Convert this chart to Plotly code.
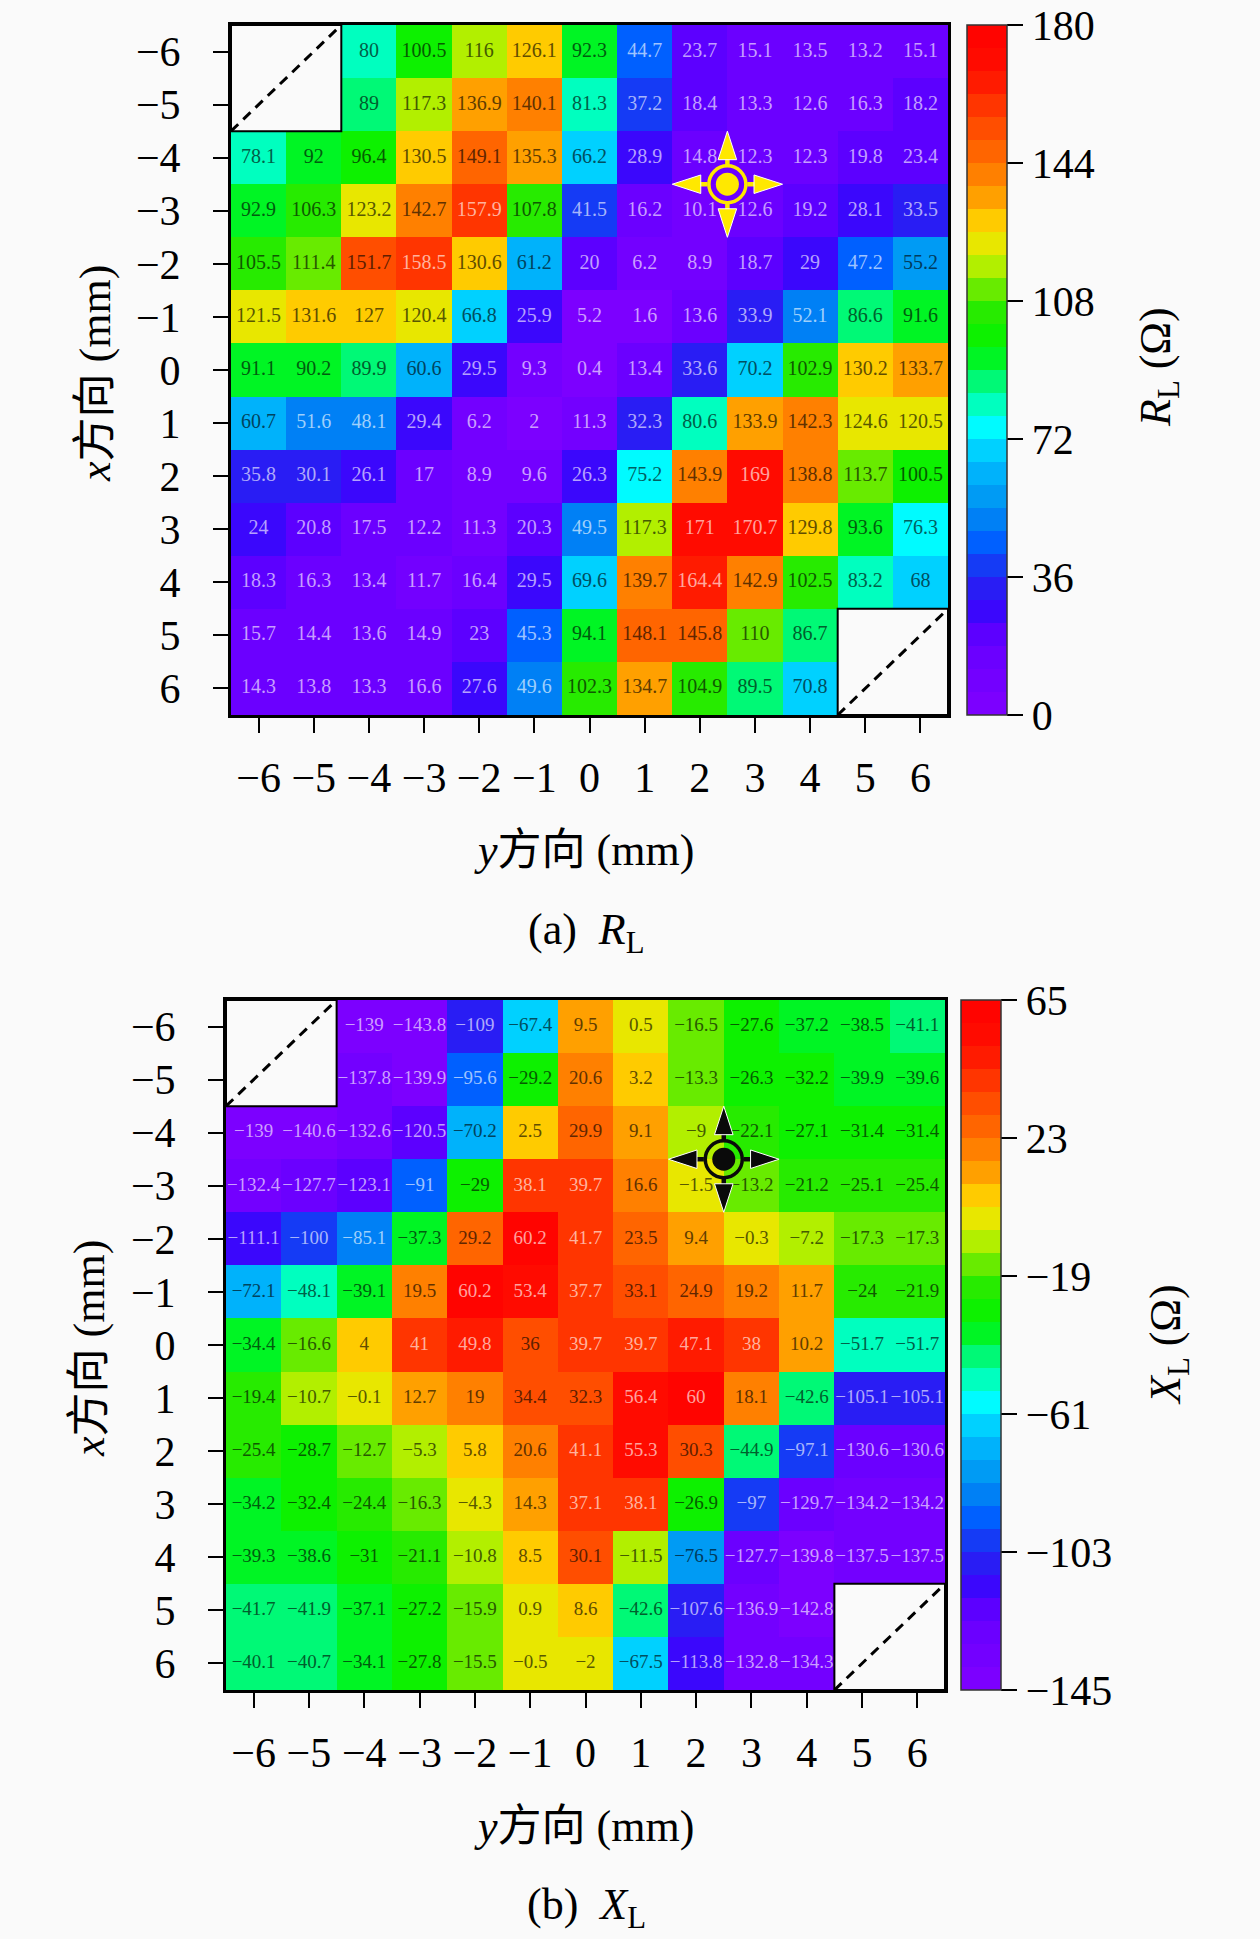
import plotly.graph_objects as go

W, H = 1260, 1939
nan = None
ticks = [-6, -5, -4, -3, -2, -1, 0, 1, 2, 3, 4, 5, 6]

# rows are x = -6..6, columns are y = -6..6
rl = [
    [nan, nan, 80, 100.5, 116, 126.1, 92.3, 44.7, 23.7, 15.1, 13.5, 13.2, 15.1],
    [nan, nan, 89, 117.3, 136.9, 140.1, 81.3, 37.2, 18.4, 13.3, 12.6, 16.3, 18.2],
    [78.1, 92, 96.4, 130.5, 149.1, 135.3, 66.2, 28.9, 14.8, 12.3, 12.3, 19.8, 23.4],
    [92.9, 106.3, 123.2, 142.7, 157.9, 107.8, 41.5, 16.2, 10.1, 12.6, 19.2, 28.1, 33.5],
    [105.5, 111.4, 151.7, 158.5, 130.6, 61.2, 20, 6.2, 8.9, 18.7, 29, 47.2, 55.2],
    [121.5, 131.6, 127, 120.4, 66.8, 25.9, 5.2, 1.6, 13.6, 33.9, 52.1, 86.6, 91.6],
    [91.1, 90.2, 89.9, 60.6, 29.5, 9.3, 0.4, 13.4, 33.6, 70.2, 102.9, 130.2, 133.7],
    [60.7, 51.6, 48.1, 29.4, 6.2, 2, 11.3, 32.3, 80.6, 133.9, 142.3, 124.6, 120.5],
    [35.8, 30.1, 26.1, 17, 8.9, 9.6, 26.3, 75.2, 143.9, 169, 138.8, 113.7, 100.5],
    [24, 20.8, 17.5, 12.2, 11.3, 20.3, 49.5, 117.3, 171, 170.7, 129.8, 93.6, 76.3],
    [18.3, 16.3, 13.4, 11.7, 16.4, 29.5, 69.6, 139.7, 164.4, 142.9, 102.5, 83.2, 68],
    [15.7, 14.4, 13.6, 14.9, 23, 45.3, 94.1, 148.1, 145.8, 110, 86.7, nan, nan],
    [14.3, 13.8, 13.3, 16.6, 27.6, 49.6, 102.3, 134.7, 104.9, 89.5, 70.8, nan, nan],
]
xl = [
    [nan, nan, -139, -143.8, -109, -67.4, 9.5, 0.5, -16.5, -27.6, -37.2, -38.5, -41.1],
    [nan, nan, -137.8, -139.9, -95.6, -29.2, 20.6, 3.2, -13.3, -26.3, -32.2, -39.9, -39.6],
    [-139, -140.6, -132.6, -120.5, -70.2, 2.5, 29.9, 9.1, -9, -22.1, -27.1, -31.4, -31.4],
    [-132.4, -127.7, -123.1, -91, -29, 38.1, 39.7, 16.6, -1.5, -13.2, -21.2, -25.1, -25.4],
    [-111.1, -100, -85.1, -37.3, 29.2, 60.2, 41.7, 23.5, 9.4, -0.3, -7.2, -17.3, -17.3],
    [-72.1, -48.1, -39.1, 19.5, 60.2, 53.4, 37.7, 33.1, 24.9, 19.2, 11.7, -24, -21.9],
    [-34.4, -16.6, 4, 41, 49.8, 36, 39.7, 39.7, 47.1, 38, 10.2, -51.7, -51.7],
    [-19.4, -10.7, -0.1, 12.7, 19, 34.4, 32.3, 56.4, 60, 18.1, -42.6, -105.1, -105.1],
    [-25.4, -28.7, -12.7, -5.3, 5.8, 20.6, 41.1, 55.3, 30.3, -44.9, -97.1, -130.6, -130.6],
    [-34.2, -32.4, -24.4, -16.3, -4.3, 14.3, 37.1, 38.1, -26.9, -97, -129.7, -134.2, -134.2],
    [-39.3, -38.6, -31, -21.1, -10.8, 8.5, 30.1, -11.5, -76.5, -127.7, -139.8, -137.5, -137.5],
    [-41.7, -41.9, -37.1, -27.2, -15.9, 0.9, 8.6, -42.6, -107.6, -136.9, -142.8, nan, nan],
    [-40.1, -40.7, -34.1, -27.8, -15.5, -0.5, -2, -67.5, -113.8, -132.8, -134.3, nan, nan],
]
rl_ticks = [0, 36, 72, 108, 144, 180]
xl_ticks = [-145, -103, -61, -19, 23, 65]

FONT = "Liberation Serif, Noto Sans CJK SC"
BG = "#fafafa"

# rainbow used by the colour bar, cut into flat bands
anchors = [
    (0, (128, 0, 255)), (0.11, (100, 0, 255)), (0.14, (64, 0, 255)), (0.2, (32, 40, 240)),
    (0.25, (0, 96, 255)), (0.3, (0, 144, 240)), (0.37, (0, 192, 255)), (0.42, (0, 255, 255)),
    (0.46, (0, 255, 170)), (0.5, (0, 245, 80)), (0.53, (0, 245, 0)), (0.58, (32, 235, 0)),
    (0.62, (110, 235, 0)), (0.66, (200, 240, 0)), (0.7, (255, 224, 0)), (0.75, (255, 160, 0)),
    (0.8, (255, 112, 0)), (0.87, (255, 64, 0)), (0.93, (255, 16, 0)), (1, (255, 0, 0)),
]
LEVELS = 30


def rainbow(t):
    for (a, ca), (b, cb) in zip(anchors, anchors[1:]):
        if t <= b:
            f = (t - a) / (b - a)
            return tuple(round(p + (q - p) * f) for p, q in zip(ca, cb))
    return anchors[-1][1]


def band(t):
    k = min(int(t * LEVELS), LEVELS - 1)
    return rainbow((k + 0.5) / LEVELS)


colorscale = []
for k in range(LEVELS):
    c = "rgb(%d,%d,%d)" % band(k / LEVELS)
    colorscale += [[k / LEVELS, c], [(k + 1) / LEVELS, c]]


def text_color(t):
    # labels are blurred into their cell in the original, so mix with the cell colour
    c = band(t)
    lum = 0.3 * c[0] + 0.59 * c[1] + 0.11 * c[2]
    mix = 0 if lum > 110 else 255
    return "rgb(%d,%d,%d)" % tuple(round(p + (mix - p) * 0.62) for p in c)


fig = go.Figure()


def px_x(p):
    return p / W


def px_y(p):
    return 1 - p / H


def note(text, x, y, size=44, angle=0):
    fig.add_annotation(text=text, x=px_x(x), y=px_y(y), xref="paper", yref="paper", showarrow=False,
                       xanchor="center", yanchor="middle", textangle=angle,
                       font=dict(family=FONT, size=size, color="black"))


def panel(n, values, cticks, left, right, top, bottom, cb_left, marker, text_size, titles):
    xa, ya = ("x", "y") if n == 1 else ("x2", "y2")
    lo, hi = cticks[0], cticks[-1]
    fig.add_trace(go.Heatmap(
        x=ticks, y=ticks, z=values, zmin=lo, zmax=hi, colorscale=colorscale, xaxis=xa, yaxis=ya,
        hoverongaps=False, xgap=0, ygap=0,
        colorbar=dict(
            x=px_x(cb_left), xanchor="left", xref="paper", xpad=0, ypad=0,
            y=px_y((top + bottom) / 2), yanchor="middle", yref="paper",
            lenmode="fraction", len=(bottom - top) / H, thickness=40, thicknessmode="pixels",
            tickmode="array", tickvals=cticks, ticks="outside", ticklen=16, tickwidth=1.5,
            tickcolor="black", outlinewidth=1.5, outlinecolor="#333",
            tickfont=dict(family=FONT, size=42, color="black"),
        ),
    ))
    tx, ty, tt, tc = [], [], [], []
    for i, row in enumerate(values):
        for j, v in enumerate(row):
            if v is None:
                continue
            tx.append(ticks[j])
            ty.append(ticks[i])
            tt.append(f"{v:g}".replace("-", "\u2212"))
            tc.append(text_color((v - lo) / (hi - lo)))
    fig.add_trace(go.Scatter(x=tx, y=ty, text=tt, mode="text", xaxis=xa, yaxis=ya, showlegend=False,
                             hoverinfo="skip", textposition="middle center",
                             textfont=dict(family=FONT, size=text_size, color=tc)))

    # probe position: ring, dot and four arrows
    cx, cy = 2.5, -3.5
    for dx, dy in [(1, 0), (-1, 0), (0, 1), (0, -1)]:
        fig.add_trace(go.Scatter(x=[cx + dx * 0.36, cx + dx], y=[cy + dy * 0.36, cy + dy], mode="lines+markers",
                                 xaxis=xa, yaxis=ya, showlegend=False, hoverinfo="skip",
                                 line=dict(color=marker, width=4.5),
                                 marker=dict(symbol="arrow", angleref="previous", size=[0, 30], color=marker, opacity=1)))
    fig.add_trace(go.Scatter(x=[cx], y=[cy], mode="markers", xaxis=xa, yaxis=ya, showlegend=False,
                             hoverinfo="skip",
                             marker=dict(symbol="circle-open", size=37, color=marker, line=dict(width=3.5, color=marker))))
    fig.add_trace(go.Scatter(x=[cx], y=[cy], mode="markers", xaxis=xa, yaxis=ya, showlegend=False,
                             hoverinfo="skip", marker=dict(size=23, color=marker)))

    # blank corners of the scan
    for x0, x1, y0, y1 in [(-6.5, -4.5, -4.5, -6.5), (4.5, 6.5, 6.5, 4.5)]:
        fig.add_shape(type="rect", x0=x0, x1=x1, y0=y0, y1=y1, xref=xa, yref=ya,
                      line=dict(color="black", width=2), fillcolor=BG, layer="above")
        fig.add_shape(type="line", x0=x0, x1=x1, y0=y0, y1=y1, xref=xa, yref=ya,
                      line=dict(color="black", width=3, dash="10px,7px"), layer="above")

    axis = dict(
        tickmode="array", tickvals=ticks, ticks="outside", ticklen=15, tickwidth=2, tickcolor="black",
        tickfont=dict(family=FONT, size=42, color="black"),
        showgrid=False, zeroline=False, showline=True, mirror=True, linecolor="black", linewidth=3,
    )
    fig.update_layout({
        ("xaxis" if n == 1 else "xaxis2"): dict(axis, domain=[px_x(left), px_x(right)], range=[-6.5, 6.5],
                                                anchor=ya, ticklabelstandoff=9),
        ("yaxis" if n == 1 else "yaxis2"): dict(axis, domain=[px_y(bottom), px_y(top)], range=[6.5, -6.5],
                                                anchor=xa, ticklabelstandoff=24),
    })
    xt, yt, cbt, cap = titles
    note("<i>y</i>方向 (mm)", xt, bottom + 136)
    note("<i>x</i>方向 (mm)", yt, (top + bottom) / 2 + 4, angle=-90)
    note(cbt[0], cbt[1], cbt[2], angle=-90)
    note(cap, xt + 2, bottom + 217)


panel(1, rl, rl_ticks, 231, 948, 25, 715, 967, "#ffe800", 20,
      (584, 96, ("<i>R</i><sub>L</sub> (Ω)", 1158, 367), "(a)&nbsp;&nbsp;<i>R</i><sub>L</sub>"))
panel(2, xl, xl_ticks, 226, 945, 1000, 1690, 961, "#0a0a0a", 19,
      (584, 89, ("<i>X</i><sub>L</sub> (Ω)", 1168, 1345), "(b)&nbsp;&nbsp;<i>X</i><sub>L</sub>"))

fig.update_layout(width=W, height=H, margin=dict(l=0, r=0, t=0, b=0), paper_bgcolor=BG, plot_bgcolor=BG,
                  showlegend=False, font=dict(family=FONT))
# the default page body has an 8px margin that would push the figure off position
fig.write_html("out.html", config={"displayModeBar": False},
               post_script="document.body.style.margin='0';document.body.style.background='%s';" % BG)
